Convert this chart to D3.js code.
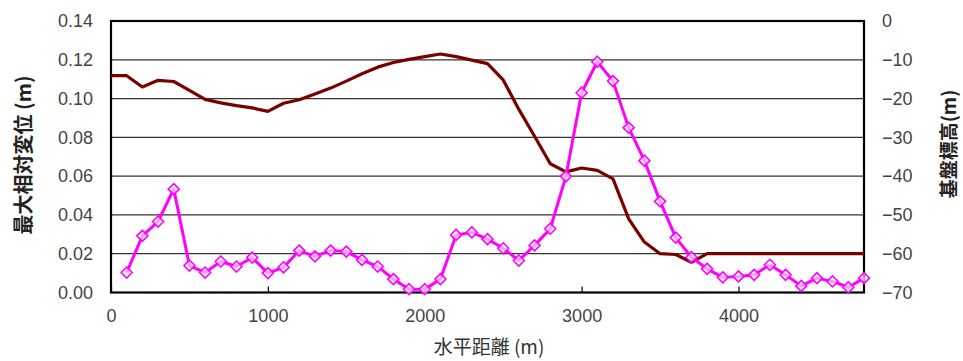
<!DOCTYPE html>
<html>
<head>
<meta charset="utf-8">
<script src="https://cdn.jsdelivr.net/npm/d3@7"></script>
<style>
  body { margin: 0; background: #fff; }
  svg { display: block; }
</style>
</head>
<body>
<div id="chart"></div>
<script>
"use strict";

// horizontal distance (m)
var distance = [0, 100, 200, 300, 400, 500, 600, 700, 800, 900,
  1000, 1100, 1200, 1300, 1400, 1500, 1600, 1700, 1800, 1900,
  2000, 2100, 2200, 2300, 2400, 2500, 2600, 2700, 2800, 2900,
  3000, 3100, 3200, 3300, 3400, 3500, 3600, 3700, 3800, 3900,
  4000, 4100, 4200, 4300, 4400, 4500, 4600, 4700, 4800];

// max relative displacement (m), starts at 100 m
var dispDistance = distance.slice(1);
var displacement = [0.0103, 0.0292, 0.0366, 0.0533, 0.0139, 0.0103, 0.0160, 0.0134, 0.0180,
  0.0100, 0.0130, 0.0216, 0.0186, 0.0216, 0.0211, 0.0168, 0.0134, 0.0069, 0.0017,
  0.0017, 0.0069, 0.0297, 0.0310, 0.0275, 0.0228, 0.0165, 0.0243, 0.0329, 0.0599,
  0.1030, 0.1190, 0.1090, 0.0850, 0.0680, 0.0470, 0.0283, 0.0182, 0.0122, 0.0078,
  0.0083, 0.0091, 0.0143, 0.0091, 0.0034, 0.0074, 0.0057, 0.0027, 0.0074];

// basement elevation (m)
var basement = [-14.1, -14.1, -17.0, -15.3, -15.6, -17.9, -20.2, -21.1, -21.8, -22.4,
  -23.3, -21.2, -20.3, -18.8, -17.3, -15.5, -13.6, -11.9, -10.7, -9.9,
  -9.2, -8.5, -9.2, -10.1, -11.0, -15.2, -22.8, -29.7, -36.8, -38.9,
  -37.9, -38.5, -40.7, -51.0, -57.0, -60.0, -60.2, -62.2, -60.0, -60.0,
  -60.0, -60.0, -60.0, -60.0, -60.0, -60.0, -60.0, -60.0, -60.0];

var xTicks = [0, 1000, 2000, 3000, 4000];
var leftTicks = [0, 0.02, 0.04, 0.06, 0.08, 0.10, 0.12, 0.14];
var rightTicks = [0, -10, -20, -30, -40, -50, -60, -70];

var W = 963, H = 361;
var margin = {top: 21, left: 111, right: 99, bottom: 68.5};
var pw = W - margin.left - margin.right,
    ph = H - margin.top - margin.bottom;

var x = d3.scaleLinear().domain([0, 4800]).range([0, pw]);
var yL = d3.scaleLinear().domain([0, 0.14]).range([ph, 0]);
var yR = d3.scaleLinear().domain([-70, 0]).range([ph, 0]);

var svg = d3.select("#chart").append("svg")
    .attr("width", W)
    .attr("height", H);

var g = svg.append("g")
    .attr("transform", "translate(" + margin.left + "," + margin.top + ")");

// gridlines
g.append("g")
  .selectAll("line")
  .data(leftTicks.slice(1, -1))
  .enter().append("line")
    .attr("x1", 0).attr("x2", pw)
    .attr("y1", function(d) { return yL(d); })
    .attr("y2", function(d) { return yL(d); })
    .attr("stroke", "#333")
    .attr("stroke-width", 1.2);

var tickFont = "'Liberation Sans', Arial, sans-serif";

// left axis
var leftAxis = g.append("g")
  .call(d3.axisLeft(yL).tickValues(leftTicks).tickFormat(d3.format(".2f")).tickSize(0).tickPadding(18));
leftAxis.select(".domain").remove();
leftAxis.selectAll("text")
  .attr("font-family", tickFont).attr("font-size", 18).attr("fill", "#444");

// right axis
var rightAxis = g.append("g")
  .attr("transform", "translate(" + pw + ",0)")
  .call(d3.axisRight(yR).tickValues(rightTicks).tickFormat(d3.format("d")).tickSize(0).tickPadding(18));
rightAxis.select(".domain").remove();
rightAxis.selectAll("text")
  .attr("font-family", tickFont).attr("font-size", 18).attr("fill", "#444");

// bottom axis, ticks pointing inward
var bottomAxis = g.append("g")
  .attr("transform", "translate(0," + ph + ")")
  .call(d3.axisBottom(x).tickValues(xTicks).tickFormat(d3.format("d")).tickSize(-6).tickPadding(17));
bottomAxis.select(".domain").remove();
bottomAxis.selectAll("line").attr("stroke", "#000").attr("stroke-width", 1.2);
bottomAxis.selectAll("text")
  .attr("font-family", tickFont).attr("font-size", 18).attr("fill", "#444");

// plot frame
g.append("rect")
  .attr("width", pw).attr("height", ph)
  .attr("fill", "none")
  .attr("stroke", "#000")
  .attr("stroke-width", 2.2);

// basement line
var lineR = d3.line()
  .x(function(d, i) { return x(distance[i]); })
  .y(function(d) { return yR(d); });

g.append("path")
  .datum(basement)
  .attr("d", lineR)
  .attr("fill", "none")
  .attr("stroke", "#7a0000")
  .attr("stroke-width", 3.2)
  .attr("stroke-linejoin", "round");

// displacement line
var lineL = d3.line()
  .x(function(d, i) { return x(dispDistance[i]); })
  .y(function(d) { return yL(d); });

g.append("path")
  .datum(displacement)
  .attr("d", lineL)
  .attr("fill", "none")
  .attr("stroke", "#ff00ff")
  .attr("stroke-width", 3)
  .attr("stroke-linejoin", "round");

g.append("g")
  .selectAll("path")
  .data(displacement)
  .enter().append("path")
    .attr("transform", function(d, i) { return "translate(" + x(dispDistance[i]) + "," + yL(d) + ")"; })
    .attr("d", "M0,-5.5L5.5,0L0,5.5L-5.5,0Z")
    .attr("fill", "#fff")
    .attr("fill-opacity", 0.6)
    .attr("stroke", "#ff00ff")
    .attr("stroke-width", 1.6);

// axis titles
var cjk = "'Noto Sans CJK JP', 'Noto Sans CJK SC', sans-serif";

svg.append("text")
  .attr("transform", "translate(31,155) rotate(-90)")
  .attr("text-anchor", "middle")
  .attr("font-family", cjk)
  .attr("font-size", 20)
  .attr("font-weight", "bold")
  .attr("fill", "#222")
  .text("最大相対変位 (m)");

svg.append("text")
  .attr("transform", "translate(956,144) rotate(-90)")
  .attr("text-anchor", "middle")
  .attr("font-family", cjk)
  .attr("font-size", 19)
  .attr("font-weight", "bold")
  .attr("fill", "#222")
  .text("基盤標高(m)");

svg.append("text")
  .attr("x", 489)
  .attr("y", 354)
  .attr("text-anchor", "middle")
  .attr("font-family", cjk)
  .attr("font-size", 19)
  .attr("fill", "#333")
  .text("水平距離 (m)");
</script>
</body>
</html>
